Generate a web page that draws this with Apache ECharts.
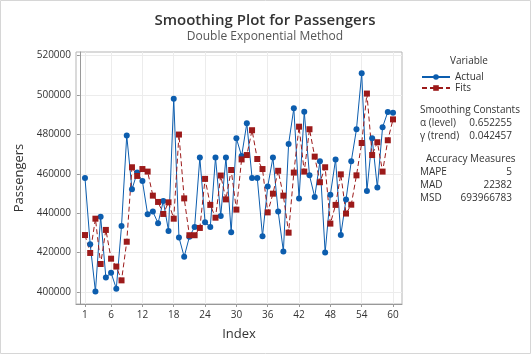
<!DOCTYPE html>
<html lang="en">
<head>
    <meta charset="UTF-8">
    <title>Smoothing Plot for Passengers</title>
    <script src="https://cdn.jsdelivr.net/npm/echarts@6.0.0/dist/echarts.min.js"></script>
    <style>
        body { margin: 0; padding: 0; background: #fff; }
        #chart { width: 531px; height: 354px; }
    </style>
</head>
<body>
    <div id="chart"></div>
    <script>
        // data
        var actual = [457900, 424200, 400200, 438200, 407300, 409800, 401700, 433500, 479400, 452100,
                      460600, 456300, 439400, 440800, 434900, 446200, 431000, 498100, 427700, 417900,
                      428000, 433000, 468200, 435400, 433000, 468200, 438600, 468200, 430300, 478000,
                      469000, 485600, 457900, 457900, 428300, 453500, 468200, 440900, 420600, 475100,
                      493200, 447500, 491500, 459200, 448200, 466300, 420000, 449400, 467300, 428900,
                      446900, 466300, 482600, 511000, 451300, 478000, 453000, 483600, 491400, 491000];
        var fits = [428900, 419800, 437200, 414200, 431500, 416900, 412900, 405900, 425500, 463300,
                    458900, 462400, 461100, 448900, 445700, 439600, 445500, 437200, 479900, 447500,
                    428800, 428800, 432500, 457400, 444200, 437700, 459100, 447000, 461900, 441800,
                    467300, 469500, 482100, 467500, 462400, 440400, 449900, 461500, 448900, 430100,
                    460600, 483900, 461100, 482600, 468700, 455700, 463300, 434700, 444200, 459700,
                    439800, 444300, 459200, 475600, 500700, 469500, 476000, 461100, 477000, 487600];
        var xTicks = [1, 6, 12, 18, 24, 30, 36, 42, 48, 54, 60];
        var yTicks = [400000, 420000, 440000, 460000, 480000, 500000, 520000];
        var constLabels = ['α (level)', 'γ (trend)'];
        var constValues = ['0.652255', '0.042457'];
        var accLabels = ['MAPE', 'MAD', 'MSD'];
        var accValues = ['5', '22382', '693966783'];

        var font = '"Open Sans", "Noto Sans", sans-serif';
        var blue = '#0c5dae';
        var red = '#9c1a1a';

        function pairs(arr) {
            return arr.map(function (v, i) { return [i + 1, v]; });
        }

        // side panel texts
        var side = [];
        side.push({ type: 'text', left: 420, top: 105, style: { text: 'Smoothing Constants', font: '10px ' + font, fill: '#333' } });
        constLabels.forEach(function (l, i) {
            side.push({ type: 'text', left: 420, top: 118 + i * 13, style: { text: l, font: '10px ' + font, fill: '#333' } });
            side.push({ type: 'text', right: 19, top: 118 + i * 13, style: { text: constValues[i], font: '10px ' + font, fill: '#333', align: 'right' } });
        });
        side.push({ type: 'text', left: 426, top: 154, style: { text: 'Accuracy Measures', font: '10px ' + font, fill: '#333' } });
        accLabels.forEach(function (l, i) {
            side.push({ type: 'text', left: 420, top: 167 + i * 13, style: { text: l, font: '10px ' + font, fill: '#333' } });
            side.push({ type: 'text', right: 19, top: 167 + i * 13, style: { text: accValues[i], font: '10px ' + font, fill: '#333', align: 'right' } });
        });
        side.push({ type: 'text', left: 450, top: 56, style: { text: 'Variable', font: '10px ' + font, fill: '#333' } });
        side.push({ type: 'rect', shape: { x: 0.5, y: 0.5, width: 530, height: 353 }, style: { fill: 'none', stroke: '#d6d6d6', lineWidth: 1 }, silent: true });

        var chart = echarts.init(document.getElementById('chart'), null, { renderer: 'canvas' });
        chart.setOption({
            animation: false,
            title: {
                text: 'Smoothing Plot for Passengers',
                subtext: 'Double Exponential Method',
                left: 260,
                textAlign: 'center',
                top: 8,
                itemGap: 3,
                textStyle: { fontFamily: font, fontSize: 15, fontWeight: 600, color: '#333' },
                subtextStyle: { fontFamily: font, fontSize: 12, color: '#555' }
            },
            legend: {
                orient: 'vertical',
                left: 416,
                top: 67,
                itemWidth: 28,
                itemHeight: 7,
                itemGap: 1,
                textStyle: { fontFamily: font, fontSize: 10, color: '#333' },
                data: ['Actual', 'Fits']
            },
            grid: {
                left: 76, top: 52, width: 326, height: 252,
                show: true, borderColor: '#b5b5b5', borderWidth: 1
            },
            xAxis: {
                type: 'value',
                min: -0.72,
                max: 61.72,
                name: 'Index',
                nameLocation: 'middle',
                nameGap: 24,
                nameTextStyle: { fontFamily: font, fontSize: 13, color: '#333', fontWeight: 500 },
                axisLine: { show: true, lineStyle: { color: '#999' } },
                axisTick: { show: true, length: 3, lineStyle: { color: '#999' }, customValues: xTicks },
                axisLabel: { fontFamily: font, fontSize: 10, color: '#333', margin: 6, customValues: xTicks },
                splitLine: { show: true, lineStyle: { color: '#ececec' } }
            },
            yAxis: {
                type: 'value',
                min: 393900,
                max: 521800,
                name: 'Passengers',
                nameLocation: 'middle',
                nameGap: 43,
                nameTextStyle: { fontFamily: font, fontSize: 13, color: '#333', fontWeight: 500 },
                axisLine: { show: true, lineStyle: { color: '#999' } },
                axisTick: { show: true, length: 3, lineStyle: { color: '#999' }, customValues: yTicks },
                axisLabel: {
                    fontFamily: font, fontSize: 10, color: '#333', margin: 5, customValues: yTicks,
                    formatter: function (v) { return String(v); }
                },
                splitLine: { show: true, lineStyle: { color: '#ececec' } }
            },
            graphic: side,
            series: [
                {
                    name: 'Actual',
                    type: 'line',
                    data: pairs(actual),
                    symbol: 'circle',
                    symbolSize: 6,
                    showAllSymbol: true,
                    itemStyle: { color: blue },
                    lineStyle: { color: blue, width: 1 }
                },
                {
                    name: 'Fits',
                    type: 'line',
                    data: pairs(fits),
                    symbol: 'rect',
                    symbolSize: 6,
                    showAllSymbol: true,
                    itemStyle: { color: red },
                    lineStyle: { color: red, width: 1, type: [5, 3] }
                }
            ]
        });
    </script>
</body>
</html>
